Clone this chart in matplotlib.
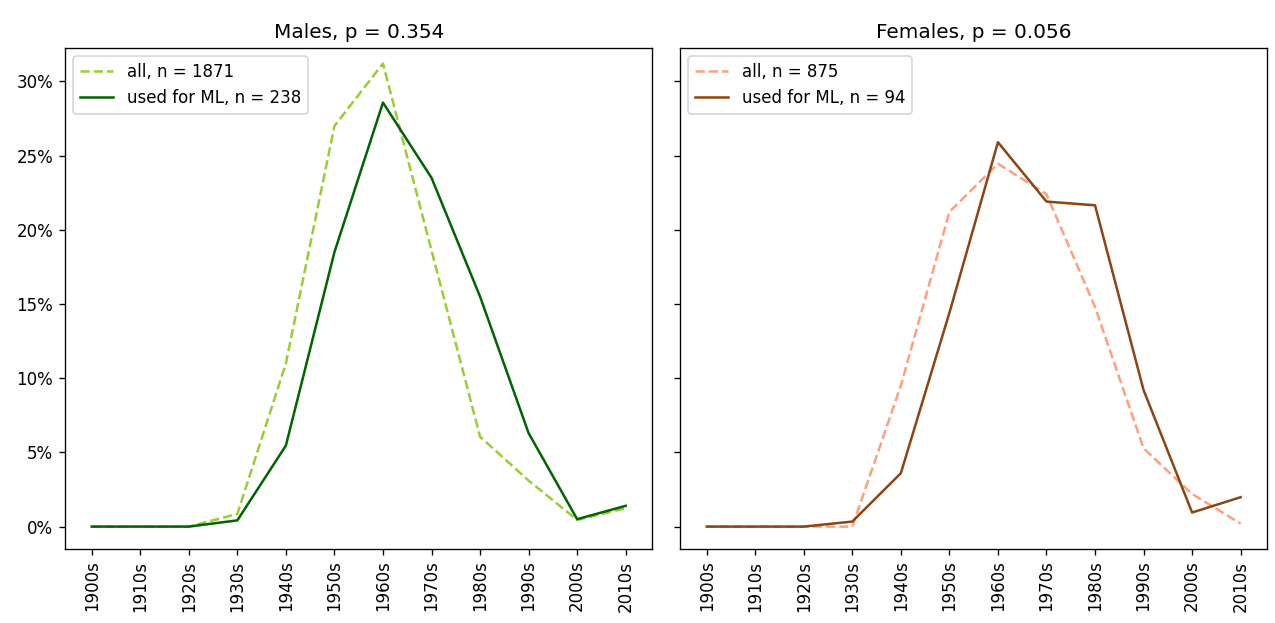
import matplotlib
matplotlib.use('Agg')
import matplotlib.pyplot as plt
from matplotlib.ticker import PercentFormatter

decades = ['1900s', '1910s', '1920s', '1930s', '1940s', '1950s',
           '1960s', '1970s', '1980s', '1990s', '2000s', '2010s']

# percentages per decade of birth
males_all = [0.0, 0.0, 0.0, 0.85, 11.0, 27.0, 31.2, 18.6, 6.06, 3.1, 0.45, 1.24]
males_ml = [0.0, 0.0, 0.0, 0.42, 5.46, 18.49, 28.57, 23.5, 15.5, 6.3, 0.5, 1.4]
females_all = [0.0, 0.0, 0.0, 0.0, 9.5, 21.2, 24.45, 22.4, 14.8, 5.27, 2.2, 0.2]
females_ml = [0.0, 0.0, 0.0, 0.34, 3.6, 14.4, 25.9, 21.9, 21.65, 9.2, 0.95, 1.98]

n_males_all, n_males_ml = 1871, 238
n_females_all, n_females_ml = 875, 94
p_males, p_females = 0.354, 0.056

fig, (ax1, ax2) = plt.subplots(1, 2, sharey=True, figsize=(10.625, 5.1917), dpi=120)
fig.subplots_adjust(left=0.051, right=0.994, bottom=0.119, top=0.923, wspace=0.047)

ax1.plot(decades, males_all, '--', color='yellowgreen', label='all, n = %d' % n_males_all)
ax1.plot(decades, males_ml, '-', color='darkgreen', label='used for ML, n = %d' % n_males_ml)
ax1.set_title('Males, p = %.3f' % p_males)
ax1.legend(loc='upper left')

ax2.plot(decades, females_all, '--', color='lightsalmon', label='all, n = %d' % n_females_all)
ax2.plot(decades, females_ml, '-', color='saddlebrown', label='used for ML, n = %d' % n_females_ml)
ax2.set_title('Females, p = %.3f' % p_females)
ax2.legend(loc='upper left')

for ax in (ax1, ax2):
    ax.tick_params(axis='x', labelrotation=90)
ax1.set_ylim(-1.5, 32.25)
ax1.yaxis.set_major_formatter(PercentFormatter(100, decimals=0))

plt.savefig('out.png')
